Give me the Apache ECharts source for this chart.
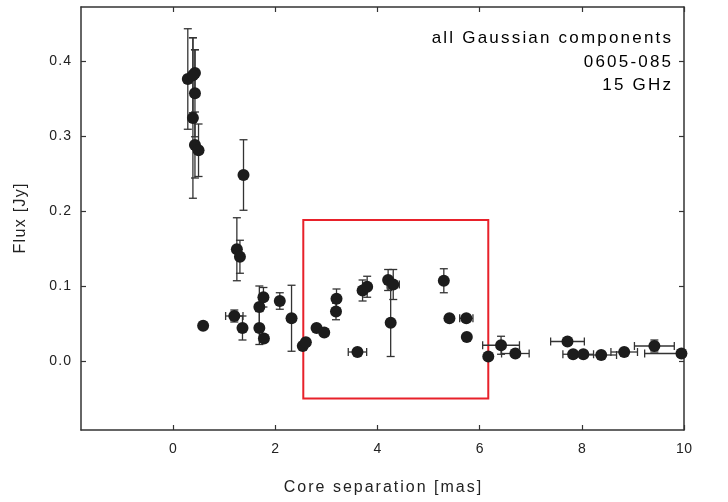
<!DOCTYPE html>
<html>
<head>
<meta charset="utf-8">
<script src="https://cdn.jsdelivr.net/npm/echarts@6/dist/echarts.min.js"></script>
<style>html,body{margin:0;padding:0;background:#fff}#c{width:728px;height:502px}</style>
</head>
<body>
<div id="c"></div>
<script>
// Data
var xVals = [0.29,0.43,0.39,0.43,0.39,0.43,0.50,1.38,1.25,1.31,0.59,1.20,1.36,1.69,1.69,1.77,1.78,2.09,2.32,2.54,2.60,2.81,2.96,3.20,3.19,3.61,3.71,3.80,4.21,4.31,4.26,5.30,5.41,5.74,5.75,6.17,6.42,6.70,7.72,7.83,8.03,8.38,8.83,9.42,9.95];
var yVals = [0.376,0.384,0.381,0.357,0.324,0.288,0.281,0.248,0.149,0.139,0.047,0.060,0.044,0.072,0.044,0.085,0.030,0.080,0.057,0.020,0.025,0.044,0.038,0.083,0.066,0.012,0.094,0.099,0.108,0.102,0.051,0.107,0.057,0.057,0.032,0.006,0.021,0.010,0.026,0.009,0.009,0.008,0.012,0.020,0.010];
var yErr  = [0.067,0.031,0.05,0.058,0.107,0.044,0.035,0.047,0.042,0.022,0,0.008,0.016,0.028,0.022,0.013,0,0.011,0.044,0,0,0,0.005,0.013,0.011,0,0.014,0.014,0.014,0.02,0.045,0.016,0,0.004,0,0,0.012,0,0,0,0,0,0,0.008,0];
var xErr  = [0,0,0,0,0,0,0,0,0,0,0,0.17,0,0,0,0,0,0,0,0,0,0,0,0,0,0.18,0,0,0,0.12,0,0,0,0.13,0,0,0.36,0.27,0.33,0.2,0.2,0.3,0.26,0.39,0.72];
var yTicks = [0, 0.1, 0.2, 0.3, 0.4];
var xTicks = [0, 2, 4, 6, 8, 10];
var boxCorners = [[2.55, 0.188, 6.17, -0.05]];
var annotation = ['all Gaussian components', '0605-085', '15 GHz'];
var xTitle = 'Core separation [mas]';
var yTitle = 'Flux [Jy]';

var pts = xVals.map(function(x,i){ return [x, yVals[i]]; });
var errData = xVals.map(function(x,i){ return [x, yVals[i], yErr[i], xErr[i]]; });

var chart = echarts.init(document.getElementById('c'), null, {renderer:'canvas'});
var FONT = 'Liberation Sans, Arial, sans-serif';
var axisCol = '#333';
var txtCol = '#222';
var cap = 4;

// letter-spaced text via rich fragments
function track(str){
  var out = '';
  for (var i = 0; i < str.length; i++) {
    var ch = str[i];
    out += '{' + (i === 0 ? 'f' : 's') + '|' + ch + '}';
  }
  return out;
}
function richFor(size, sp){
  return {
    f:{fontSize:size, fontFamily:FONT, color:txtCol},
    s:{fontSize:size, fontFamily:FONT, color:txtCol, padding:[0,0,0,sp]}
  };
}

function errRender(params, api){
  var x = api.value(0), y = api.value(1), ey = api.value(2), ex = api.value(3);
  var children = [];
  var st = {stroke:'#333', lineWidth:1.3};
  if (ey > 0) {
    var t = api.coord([x, y+ey]), b = api.coord([x, y-ey]);
    children.push({type:'line', shape:{x1:t[0],y1:t[1],x2:b[0],y2:b[1]}, style:st});
    children.push({type:'line', shape:{x1:t[0]-cap,y1:t[1],x2:t[0]+cap,y2:t[1]}, style:st});
    children.push({type:'line', shape:{x1:b[0]-cap,y1:b[1],x2:b[0]+cap,y2:b[1]}, style:st});
  }
  if (ex > 0) {
    var l = api.coord([x-ex, y]), r = api.coord([x+ex, y]);
    children.push({type:'line', shape:{x1:l[0],y1:l[1],x2:r[0],y2:r[1]}, style:st});
    children.push({type:'line', shape:{x1:l[0],y1:l[1]-cap,x2:l[0],y2:l[1]+cap}, style:st});
    children.push({type:'line', shape:{x1:r[0],y1:r[1]-cap,x2:r[0],y2:r[1]+cap}, style:st});
  }
  return {type:'group', children:children};
}

function boxRender(params, api){
  var p0 = api.coord([api.value(0), api.value(1)]);
  var p1 = api.coord([api.value(2), api.value(3)]);
  return {type:'rect', shape:{x:p0[0], y:p0[1], width:p1[0]-p0[0], height:p1[1]-p0[1]},
          style:{fill:'none', stroke:'#e8212a', lineWidth:2}};
}

function axisX(pos, showLabel){
  return {
    type:'value', position:pos, min:-1.8, max:10,
    axisLine:{show:true, onZero:false, lineStyle:{color:axisCol, width:1.5}},
    axisTick:{show:true, inside:true, length:5, customValues:xTicks, lineStyle:{color:axisCol, width:1.2}},
    axisLabel:{show:showLabel, customValues:xTicks, margin:12, rich:richFor(14, 0.6),
      formatter:function(v){ return track(String(v)); }},
    splitLine:{show:false},
    name: showLabel ? track(xTitle) : '',
    nameLocation:'middle', nameGap:50,
    nameTextStyle:{rich:richFor(16, 2.0)}
  };
}
function axisY(pos, showLabel){
  return {
    type:'value', position:pos, min:-0.092, max:0.472,
    axisLine:{show:true, onZero:false, lineStyle:{color:axisCol, width:1.5}},
    axisTick:{show:true, inside:true, length:5, customValues:yTicks, lineStyle:{color:axisCol, width:1.2}},
    axisLabel:{show:showLabel, customValues:yTicks, margin:10, rich:richFor(14, 1.1),
      formatter:function(v){ return track(v.toFixed(1)); }},
    splitLine:{show:false},
    name: showLabel ? track(yTitle) : '',
    nameLocation:'middle', nameGap:52, nameRotate:90,
    nameTextStyle:{rich:richFor(16, 1.3)}
  };
}

var annY = [38, 62, 85];
chart.setOption({
  animation:false,
  backgroundColor:'#fff',
  grid:{left:81, right:44, top:7, bottom:72},
  xAxis:[axisX('bottom', true), axisX('top', false)],
  yAxis:[axisY('left', true), axisY('right', false)],
  graphic: annotation.map(function(t, i){
    return {type:'text', x:671, y:annY[i],
      style:{text:track(t), align:'right', verticalAlign:'middle', rich:richFor(17, 2.2)}};
  }),
  series:[
    {type:'custom', renderItem:boxRender, data:boxCorners, clip:true, z:1},
    {type:'custom', renderItem:errRender, data:errData, clip:true, z:2},
    {type:'scatter', data:pts, symbol:'circle', symbolSize:12, itemStyle:{color:'#1c1c1c', opacity:1}, z:3, clip:true}
  ]
});
</script>
</body>
</html>
